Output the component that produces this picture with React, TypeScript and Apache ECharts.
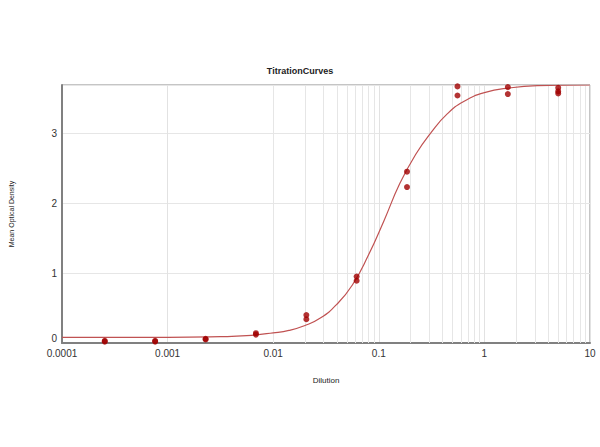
import React, { useEffect, useRef } from "react";
import * as echarts from "echarts";

const dilutions = [0.000254, 0.000762, 0.00229, 0.00686, 0.0206, 0.0617, 0.185, 0.556, 1.667, 5];
const rep1 = [0.03, 0.03, 0.06, 0.14, 0.4, 0.95, 2.45, 3.67, 3.66, 3.65];
const rep2 = [0.02, 0.02, 0.05, 0.12, 0.34, 0.89, 2.23, 3.54, 3.56, 3.57];
const extraX = [5];
const extraY = [3.6];

// fitted curve
const curveX = [0.0001, 0.001, 0.00316, 0.0056, 0.01, 0.0141, 0.02, 0.0282, 0.0398, 0.0562, 0.0794, 0.112, 0.158, 0.224, 0.316, 0.447, 0.631, 1, 1.78, 3.16, 10];
const curveY = [0.08, 0.08, 0.09, 0.105, 0.145, 0.18, 0.25, 0.36, 0.55, 0.83, 1.25, 1.75, 2.28, 2.7, 3.02, 3.28, 3.45, 3.58, 3.65, 3.68, 3.69];

const decades = [0.0001, 0.001, 0.01, 0.1, 1];
const minorSteps = [2, 3, 4, 5, 6, 7, 8, 9];

export default function App() {
  const ref = useRef<HTMLDivElement>(null);
  useEffect(() => {
    if (!ref.current) return;
    const chart = echarts.init(ref.current, null, { renderer: "svg" });
    const minorLines: any[] = [];
    decades.forEach((d) => minorSteps.forEach((m) => minorLines.push({ xAxis: d * m })));
    const points: number[][] = [];
    dilutions.forEach((x, i) => {
      points.push([x, rep1[i]]);
      points.push([x, rep2[i]]);
    });
    extraX.forEach((x, i) => points.push([x, extraY[i]]));
    chart.setOption({
      animation: false,
      title: {
        text: "TitrationCurves",
        left: "center",
        top: 61,
        textStyle: { fontSize: 9, fontWeight: "bold", color: "#222", fontFamily: "Liberation Sans, Arial" },
      },
      grid: { left: 59, right: 10, top: 85, bottom: 104, show: true, borderColor: "#8a8a8a", borderWidth: 1 },
      xAxis: {
        type: "log",
        logBase: 10,
        min: 0.0001,
        max: 10,
        name: "Dilution",
        nameLocation: "middle",
        nameGap: 33,
        nameTextStyle: { fontSize: 8, color: "#222", fontFamily: "Liberation Sans, Arial" },
        axisLine: { lineStyle: { color: "#808080", width: 2 } },
        axisTick: { show: false },
        axisLabel: {
          fontSize: 10,
          color: "#333",
          margin: 5,
          fontFamily: "Liberation Sans, Arial",
          formatter: (v: number) => String(Number(v.toPrecision(1))),
        },
        splitLine: { show: true, lineStyle: { color: "#e2e2e2", width: 1 } },
      },
      yAxis: {
        type: "value",
        min: 0,
        max: 3.69,
        interval: 1,
        name: "Mean Optical Density",
        nameLocation: "middle",
        nameGap: 47,
        nameTextStyle: { fontSize: 7, color: "#222", fontFamily: "Liberation Sans, Arial" },
        axisLine: { show: true, lineStyle: { color: "#808080", width: 2 } },
        axisTick: { show: false },
        axisLabel: {
          fontSize: 10,
          color: "#333",
          margin: 5,
          fontFamily: "Liberation Sans, Arial",
          formatter: (v: number) => (v === 0 ? "{z|0}" : Number.isInteger(v) ? String(v) : ""),
          rich: { z: { fontSize: 10, color: "#333", padding: [0, 0, 10, 0] } },
        },
        splitLine: { show: true, lineStyle: { color: "#e6e6e6", width: 1 } },
      },
      series: [
        {
          type: "line",
          data: [],
          silent: true,
          z: 1,
          markLine: {
            silent: true,
            z: 1,
            symbol: ["none", "none"],
            label: { show: false },
            lineStyle: { color: "#e6e6e6", type: "solid", width: 1 },
            emphasis: { disabled: true },
            data: minorLines,
          },
        },
        {
          type: "line",
          data: curveX.map((x, i) => [x, curveY[i]]),
          smooth: 0.5,
          showSymbol: false,
          symbol: "none",
          lineStyle: { color: "#c05252", width: 1.2 },
          z: 3,
        },
        {
          type: "scatter",
          data: points,
          symbol: "circle",
          symbolSize: 6,
          itemStyle: { color: "#a00000" },
          z: 4,
        },
      ],
    });
    return () => chart.dispose();
  }, []);
  return <div ref={ref} style={{ width: 600, height: 447, position: "absolute", left: 0, top: 0 }} />;
}
